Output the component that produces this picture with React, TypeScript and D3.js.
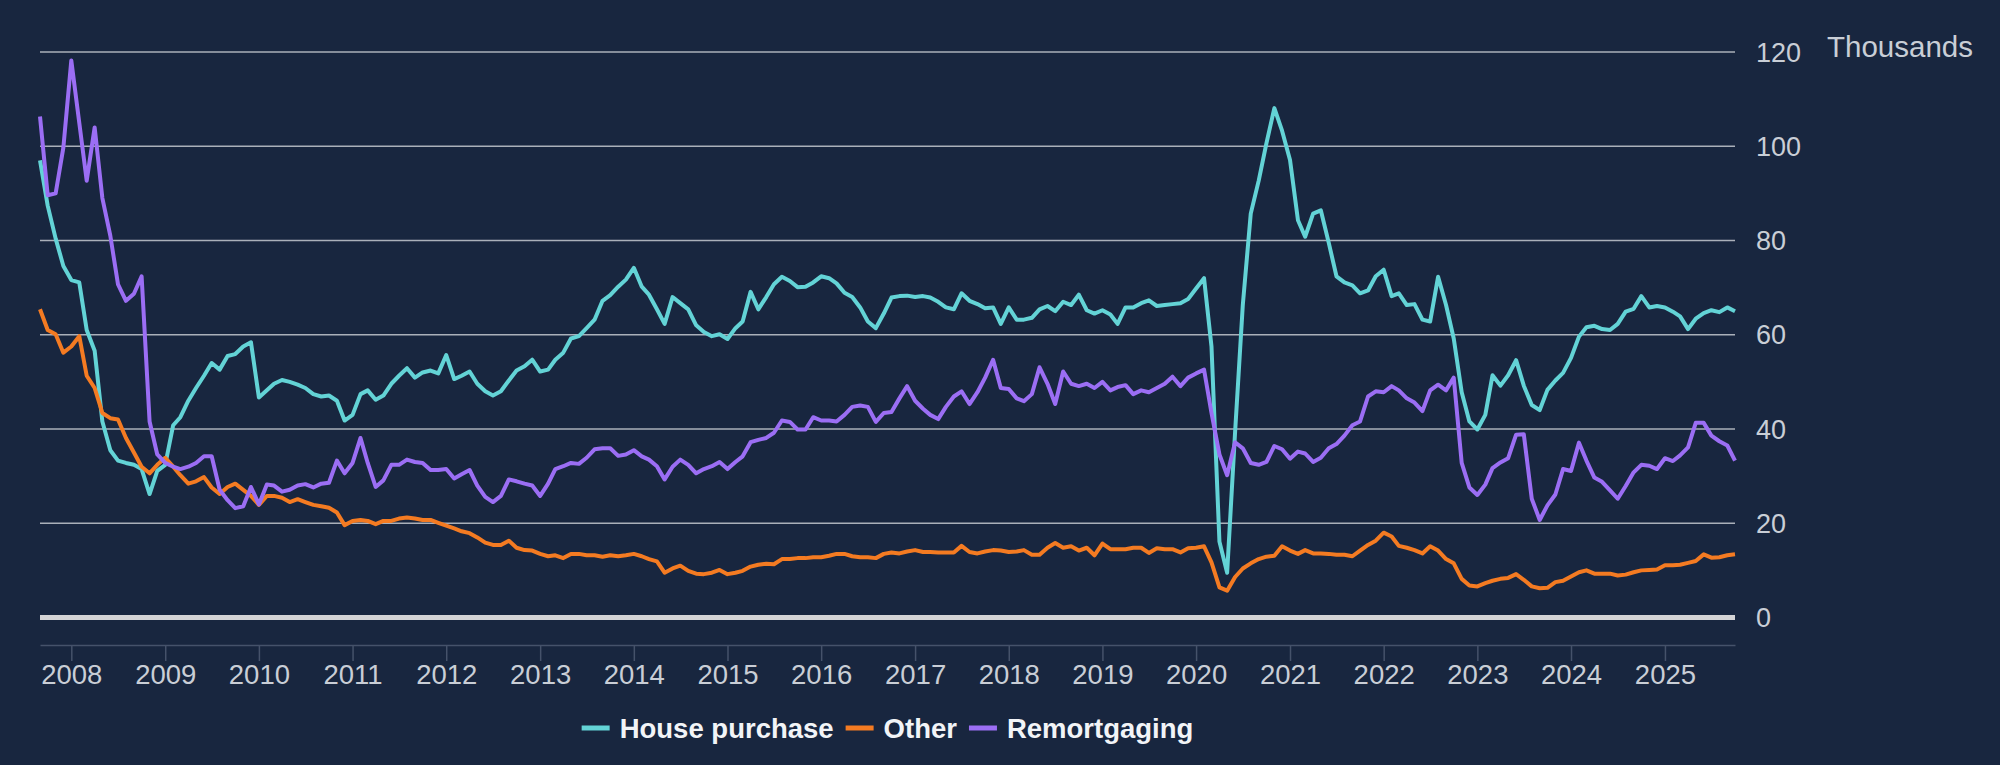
import React, { useEffect, useRef } from "react";
import * as d3 from "d3";

// monthly mortgage approvals, thousands, Sep 2007 .. Oct 2025
const firstMonth = new Date(2007, 8, 1);
const lastMonth = new Date(2025, 9, 1);

const housePurchase: number[] = [
  97, 87.4, 80.4, 74.6,
  71.6, 71.1, 61, 56.6, 41.6, 35.5, 33.3, 32.8, 32.4, 31.5, 26.2, 31.1,
  32.4, 40.8, 42.5, 46, 48.7, 51.3, 54, 52.6, 55.5, 55.9, 57.5, 58.4,
  46.7, 48.2, 49.6, 50.4, 50, 49.4, 48.7, 47.4, 46.9, 47.1, 46, 41.8,
  43, 47.4, 48.2, 46.2, 47.1, 49.6, 51.3, 52.9, 50.9, 52, 52.4, 51.8,
  55.7, 50.6, 51.3, 52.2, 49.6, 48, 47.1, 48, 50.3, 52.4, 53.3, 54.7,
  52.2, 52.6, 54.7, 56.2, 59.2, 59.7, 61.4, 63.2, 67.2, 68.4, 70.2, 71.7,
  74.2, 70.2, 68.5, 65.4, 62.3, 68, 66.7, 65.4, 62, 60.6, 59.7, 60.1,
  59.1, 61.4, 62.8, 69.1, 65.4, 68, 70.7, 72.3, 71.4, 70.1, 70.2, 71.1,
  72.4, 72, 70.9, 68.9, 68, 65.8, 62.8, 61.4, 64.5, 67.9, 68.2, 68.3,
  68, 68.2, 67.9, 67, 65.8, 65.4, 68.8, 67.2, 66.5, 65.6, 65.8, 62.3,
  65.8, 63.2, 63.2, 63.6, 65.4, 66.1, 65, 67, 66.3, 68.5, 65.2, 64.5,
  65.2, 64.3, 62.3, 65.8, 65.8, 66.7, 67.3, 66.1, 66.3, 66.5, 66.7, 67.6,
  69.8, 72, 57.5, 16.1, 9.5, 39.4, 66.3, 85.7, 92.7, 100.6, 108.1, 103.3,
  97.1, 84.3, 80.8, 85.7, 86.4, 79.5, 72.4, 71.1, 70.5, 68.8, 69.4, 72.4,
  73.8, 68.2, 68.8, 66.3, 66.5, 63.2, 62.8, 72.3, 66.3, 59.2, 47.8, 41.6,
  39.9, 43, 51.4, 49.2, 51.4, 54.6, 49.2, 45.1, 44, 48.3, 50.3, 51.9,
  55.1, 59.6, 61.6, 61.9, 61.2, 61, 62.3, 64.9, 65.5, 68.2, 65.8, 66.1,
  65.8, 64.9, 63.9, 61.2, 63.4, 64.6, 65.2, 64.8, 65.8, 65,
];

const other: number[] = [
  65.4, 61, 60.1, 56.2,
  57.5, 59.7, 51.3, 48.7, 43.4, 42.3, 42, 38.1, 35, 32, 30.6, 32.4,
  33.9, 32, 30.2, 28.4, 28.9, 29.8, 27.6, 26.2, 27.7, 28.4, 27.1, 25.8,
  23.9, 25.8, 25.8, 25.4, 24.5, 25.1, 24.5, 23.9, 23.6, 23.3, 22.3, 19.6,
  20.5, 20.7, 20.5, 19.8, 20.5, 20.5, 21, 21.2, 21, 20.7, 20.7, 20.1,
  19.5, 18.9, 18.3, 17.9, 17, 15.9, 15.4, 15.4, 16.3, 14.8, 14.3, 14.2,
  13.5, 13, 13.2, 12.6, 13.5, 13.5, 13.2, 13.2, 12.9, 13.2, 13, 13.2,
  13.5, 13, 12.4, 11.9, 9.5, 10.4, 11, 9.9, 9.3, 9.2, 9.5, 10.1,
  9.2, 9.5, 9.9, 10.8, 11.2, 11.4, 11.3, 12.4, 12.4, 12.6, 12.6, 12.8,
  12.8, 13.1, 13.5, 13.5, 13, 12.8, 12.8, 12.6, 13.5, 13.8, 13.6, 14,
  14.3, 13.9, 13.9, 13.8, 13.8, 13.8, 15.2, 13.9, 13.6, 14, 14.3, 14.2,
  13.9, 14, 14.3, 13.3, 13.3, 14.8, 15.8, 14.8, 15.1, 14.2, 14.8, 13.2,
  15.7, 14.5, 14.5, 14.5, 14.8, 14.8, 13.7, 14.7, 14.5, 14.5, 13.8, 14.7,
  14.8, 15.1, 11.7, 6.4, 5.7, 8.6, 10.4, 11.5, 12.4, 12.9, 13.1, 15.1,
  14.2, 13.5, 14.3, 13.6, 13.6, 13.5, 13.3, 13.3, 13, 14.2, 15.4, 16.3,
  18, 17.2, 15.2, 14.8, 14.3, 13.6, 15.1, 14.2, 12.4, 11.5, 8.2, 6.8,
  6.6, 7.3, 7.8, 8.2, 8.4, 9.2, 8, 6.6, 6.2, 6.3, 7.5, 7.8,
  8.7, 9.6, 10, 9.3, 9.3, 9.3, 8.9, 9.1, 9.6, 10, 10.1, 10.2,
  11.1, 11.1, 11.2, 11.6, 12, 13.4, 12.7, 12.8, 13.2, 13.4,
];

const remortgaging: number[] = [
  106.3, 89.6, 90, 99.7,
  118.2, 105, 92.7, 104, 89, 81, 70.7, 67.2, 68.7, 72.4, 41.6, 34.6,
  32.8, 32, 31.5, 32, 32.8, 34.2, 34.2, 27.1, 24.9, 23.2, 23.6, 27.7,
  24, 28.2, 28, 26.7, 27.1, 28, 28.3, 27.6, 28.4, 28.6, 33.3, 30.6,
  32.8, 38.1, 32.8, 27.7, 29.1, 32.4, 32.4, 33.5, 33, 32.8, 31.3, 31.3,
  31.5, 29.5, 30.4, 31.3, 28, 25.6, 24.5, 25.8, 29.3, 28.9, 28.4, 28,
  25.8, 28.4, 31.5, 32.1, 32.8, 32.6, 33.9, 35.7, 35.9, 35.9, 34.3, 34.6,
  35.5, 34.2, 33.5, 32.1, 29.3, 32, 33.5, 32.4, 30.6, 31.5, 32.1, 33,
  31.5, 33, 34.2, 37.2, 37.7, 38.1, 39.2, 41.8, 41.5, 39.9, 39.9, 42.5,
  41.8, 41.8, 41.6, 43, 44.7, 45, 44.7, 41.5, 43.4, 43.6, 46.5, 49.1,
  46, 44.3, 43, 42.1, 44.7, 46.9, 48, 45.3, 47.8, 50.9, 54.7, 48.7,
  48.5, 46.5, 45.9, 47.4, 53.1, 49.6, 45.3, 52.2, 49.6, 49.1, 49.6, 48.7,
  50, 48.2, 48.9, 49.3, 47.4, 48.2, 47.8, 48.7, 49.6, 51.1, 49.1, 50.9,
  51.8, 52.6, 43.4, 34.6, 30.2, 37.2, 35.9, 32.8, 32.4, 33, 36.4, 35.7,
  33.7, 35.2, 34.8, 33, 33.9, 35.9, 36.8, 38.6, 40.8, 41.6, 46.9, 48,
  47.8, 49.1, 48.2, 46.5, 45.6, 43.8, 48.2, 49.4, 48.2, 50.9, 32.8, 27.6,
  26, 28.2, 31.7, 32.9, 33.8, 38.8, 38.9, 25.2, 20.7, 23.8, 26.1, 31.5,
  31.1, 37.1, 33.3, 29.7, 28.8, 27, 25.2, 27.9, 30.8, 32.4, 32.2, 31.5,
  33.8, 33.2, 34.4, 36.1, 41.3, 41.3, 38.6, 37.4, 36.5, 33.3,
];

const seriesNames = ["House purchase", "Other", "Remortgaging"];
const seriesColors = ["#63d3d6", "#f47b22", "#9b6ef4"];
const yTicks = [0, 20, 40, 60, 80, 100, 120];
const xTickYears = d3.range(2008, 2026);
const unitLabel = "Thousands";

const W = 2000;
const H = 765;
const FONT = "'Liberation Sans', Arial, Helvetica, sans-serif";

const Chart = () => {
  const svgRef = useRef<SVGSVGElement>(null);

  useEffect(() => {
    const svg = d3.select(svgRef.current);
    svg.selectAll("*").remove();

    const left = 40, right = 1735, top = 52, zeroY = 617.5, axisY = 645;

    svg.append("rect").attr("width", W).attr("height", H).attr("fill", "#18263f");

    const x = d3.scaleTime().domain([firstMonth, lastMonth]).range([left, right]);
    const y = d3.scaleLinear().domain([0, 120]).range([zeroY, top]);

    // gridlines + right labels
    const grid = svg.append("g");
    grid.selectAll("line")
      .data(yTicks.filter((t) => t !== 0))
      .join("line")
      .attr("x1", left).attr("x2", right)
      .attr("y1", (d) => y(d)).attr("y2", (d) => y(d))
      .attr("stroke", "#aab0ba").attr("stroke-width", 1.5);

    grid.selectAll("text")
      .data(yTicks)
      .join("text")
      .attr("x", 1756).attr("y", (d) => y(d)).attr("dy", "0.36em")
      .attr("fill", "#c9ced6").attr("font-size", 27).attr("font-family", FONT)
      .text((d) => d);

    svg.append("text")
      .attr("x", 1827).attr("y", 46).attr("dy", "0.36em")
      .attr("fill", "#c9ced6").attr("font-size", 29.5).attr("font-family", FONT)
      .text(unitLabel);

    // x axis
    const xAxis = d3.axisBottom(x)
      .tickValues(xTickYears.map((yr) => new Date(yr, 0, 1)))
      .tickFormat((d) => d3.timeFormat("%Y")(d as Date))
      .tickSize(16)
      .tickSizeOuter(0);
    const gx = svg.append("g").attr("transform", `translate(0,${axisY})`).call(xAxis);
    gx.select(".domain").attr("stroke", "#45526a").attr("stroke-width", 1.5);
    gx.selectAll(".tick line").attr("stroke", "#45526a").attr("stroke-width", 1.5);
    gx.selectAll(".tick text")
      .attr("y", 29).attr("dy", "0.36em")
      .attr("fill", "#c9ced6").attr("font-size", 27.5).attr("font-family", FONT);

    // zero line
    svg.append("line")
      .attr("x1", left).attr("x2", right)
      .attr("y1", y(0)).attr("y2", y(0))
      .attr("stroke", "#d4d4d6").attr("stroke-width", 5);

    // series lines
    const allSeries = [housePurchase, other, remortgaging];
    const line = d3.line<number>()
      .x((_, i) => x(d3.timeMonth.offset(firstMonth, i)))
      .y((d) => y(d));

    allSeries.forEach((vals, k) => {
      svg.append("path")
        .datum(vals)
        .attr("d", line)
        .attr("fill", "none")
        .attr("stroke", seriesColors[k])
        .attr("stroke-width", 4)
        .attr("stroke-linejoin", "round");
    });

    // legend
    const legY = 728;
    const leg = svg.append("g");
    const items = seriesNames.map((name, k) => {
      const g = leg.append("g");
      g.append("line")
        .attr("x1", 0).attr("x2", 28).attr("y1", 0).attr("y2", 0)
        .attr("stroke", seriesColors[k]).attr("stroke-width", 5);
      const t = g.append("text")
        .attr("x", 38).attr("dy", "0.36em")
        .attr("fill", "#f2f4f7").attr("font-size", 27.5).attr("font-weight", "bold")
        .attr("font-family", FONT)
        .text(name);
      const w = 38 + (t.node() as SVGTextElement).getComputedTextLength();
      return { g, w };
    });
    const gap = 12;
    const total = d3.sum(items, (d) => d.w) + gap * (items.length - 1);
    let cx = (left + right) / 2 - total / 2;
    items.forEach((it) => {
      it.g.attr("transform", `translate(${cx},${legY})`);
      cx += it.w + gap;
    });
  }, []);

  return (
    <svg
      ref={svgRef}
      width={W}
      height={H}
      style={{ position: "absolute", left: 0, top: 0, display: "block" }}
    />
  );
};

export default function App() {
  return <Chart />;
}
